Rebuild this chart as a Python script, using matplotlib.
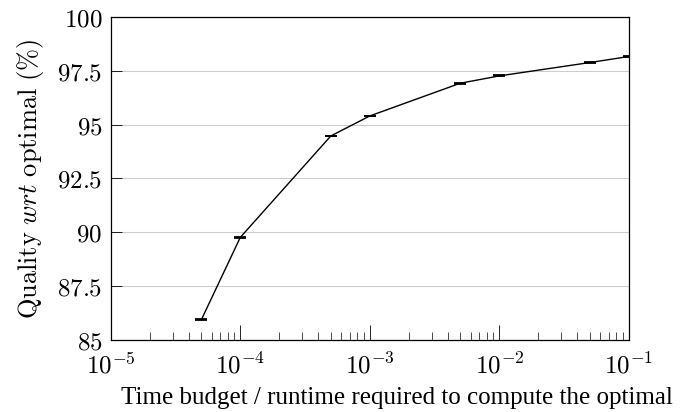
import math
import matplotlib
matplotlib.use('Agg')
import matplotlib.pyplot as plt
from matplotlib.ticker import LogLocator, NullFormatter

plt.rcParams['mathtext.fontset'] = 'cm'

# data
budget = [5e-5, 1e-4, 5e-4, 1e-3, 5e-3, 1e-2, 5e-2, 1e-1]
quality = [85.93, 89.76, 94.47, 95.40, 96.92, 97.26, 97.88, 98.16]
err = [0.02, 0.02, 0.02, 0.02, 0.02, 0.02, 0.02, 0.02]
yticks = [85, 87.5, 90, 92.5, 95, 97.5, 100]
xticks = [1e-5, 1e-4, 1e-3, 1e-2, 1e-1]

fig = plt.figure(figsize=(6.88, 4.12), dpi=100)
ax = fig.add_axes([0.161, 0.175, 0.753, 0.784])

ax.errorbar(budget, quality, yerr=err, color='black', lw=1.0,
            capsize=4.5, capthick=1.3, elinewidth=1.0)

ax.set_xscale('log')
ax.set_xlim(1e-5, 1e-1)
ax.set_ylim(85, 100)

ax.set_yticks(yticks)
ax.set_yticklabels(['$%g$' % v for v in yticks], fontsize=18)
ax.set_xticks(xticks)
ax.set_xticklabels(['$10^{%d}$' % round(math.log10(v)) for v in xticks], fontsize=18)
ax.xaxis.set_minor_locator(LogLocator(base=10, subs=range(2, 10), numticks=20))
ax.xaxis.set_minor_formatter(NullFormatter())

ax.tick_params(axis='x', which='major', direction='in', length=11, width=0.6, pad=9)
ax.tick_params(axis='x', which='minor', direction='in', length=6, width=0.5)
ax.tick_params(axis='y', which='major', direction='in', length=8, width=0.6, pad=6)
ax.tick_params(axis='y', which='minor', left=False)

ax.grid(axis='y', color='#cccccc', lw=0.8)
ax.set_axisbelow(True)
for s in ax.spines.values():
    s.set_linewidth(0.9)

ax.set_ylabel(r'$\mathrm{Quality}\ \mathit{wrt}\ \mathrm{optimal}\ (\%)$', fontsize=19, labelpad=8)
ax.set_xlabel('Time budget / runtime required to compute the optimal',
              fontsize=18, family='Liberation Serif', labelpad=6)
ax.xaxis.label.set_x(0.553)

fig.savefig('out.png', dpi=100)
